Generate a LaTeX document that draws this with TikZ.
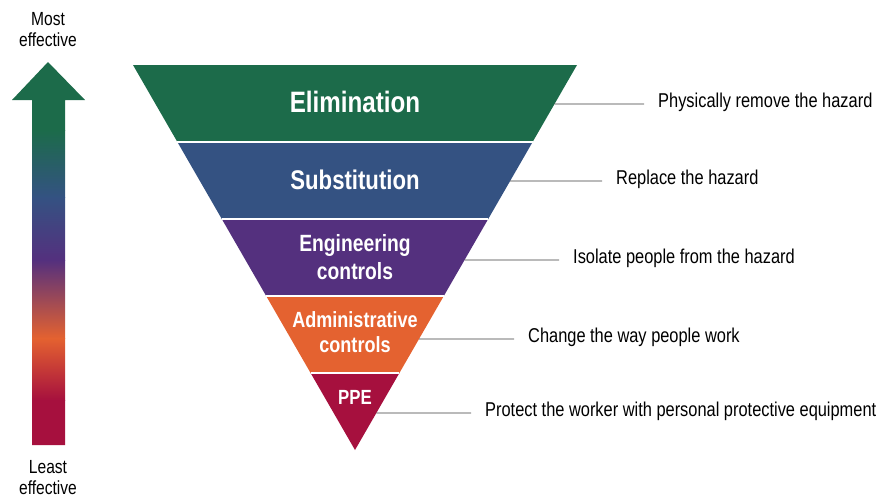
\documentclass[tikz,border=0pt]{standalone}
\usepackage{fontspec}
\setmainfont{Liberation Sans}
\newfontfamily\narrowfont[FakeStretch=0.82]{Liberation Sans}
\usetikzlibrary{calc}

\definecolor{elimgreen}{RGB}{28,107,74}
\definecolor{subblue}{RGB}{52,82,130}
\definecolor{engpurple}{RGB}{84,48,126}
\definecolor{admorange}{RGB}{228,98,48}
\definecolor{ppered}{RGB}{166,16,62}
\definecolor{leader}{RGB}{60,60,60}

\begin{document}
\begin{tikzpicture}[x=1pt,y=-1pt,
    title/.style={text=white,align=center,inner sep=0pt},
    label/.style={anchor=west,inner sep=0pt,text height=0.72em,text depth=0pt,
      font=\narrowfont\fontsize{20}{22}\selectfont},
    leaderline/.style={draw=leader,line width=0.9pt}]
  \useasboundingbox (0,0) rectangle (888,499);

  % funnel corners
  \coordinate (tl) at (133,65);
  \coordinate (tr) at (577,65);
  \coordinate (ap) at (355,450);

  \foreach \col [count=\i] in {elimgreen,subblue,engpurple,admorange,ppered}{
    \pgfmathsetmacro{\sa}{(\i-1)*0.2}
    \pgfmathsetmacro{\sb}{\i*0.2}
    \fill[\col] ($(tl)!\sa!(ap)$) -- ($(tr)!\sa!(ap)$) -- ($(tr)!\sb!(ap)$) -- ($(tl)!\sb!(ap)$) -- cycle;
  }
  \foreach \s in {0.2,0.4,0.6,0.8}
    \draw[white,line width=2.5pt] ($(tl)!\s!(ap)$) -- ($(tr)!\s!(ap)$);

  % band titles
  \node[title,font=\narrowfont\bfseries\fontsize{29.5}{30}\selectfont] (elim) at (355,102) {Elimination};
  \node[title,font=\narrowfont\bfseries\fontsize{27}{30}\selectfont] (subst) at (355,180) {Substitution};
  \node[title,font=\narrowfont\bfseries\fontsize{23.5}{28}\selectfont] (eng) at (355,257) {Engineering\\controls};
  \node[title,font=\narrowfont\bfseries\fontsize{22}{25}\selectfont] (adm) at (355,332) {Administrative\\controls};
  \node[title,font=\narrowfont\bfseries\fontsize{20.5}{24}\selectfont] (ppe) at (355,397) {PPE};

  % labels on the right
  \node[label] (elimtxt) at (658,104) {Physically remove the hazard};
  \node[label] (substtxt) at (616,181) {Replace the hazard};
  \node[label] (engtxt) at (573,260) {Isolate people from the hazard};
  \node[label] (admtxt) at (528,339) {Change the way people work};
  \node[label] (ppetxt) at (485,413) {Protect the worker with personal protective equipment};

  \foreach \t in {elimtxt,substtxt,engtxt,admtxt,ppetxt}{
    \coordinate (\t-edge) at (intersection of ap--tr and \t.west--\t.east);
    \draw[leaderline] (\t-edge) -- ([xshift=-14pt]\t.west);
  }

  % effectiveness arrow
  \begin{scope}
    \clip (48,62) -- (85,100) -- (65,100) -- (65,445) -- (32,445) -- (32,100) -- (12,100) -- cycle;
    \fill[elimgreen] (0,60) rectangle (100,130.5);
    \shade[top color=elimgreen,bottom color=subblue] (0,130) rectangle (100,197.5);
    \shade[top color=subblue,bottom color=engpurple] (0,197) rectangle (100,260.5);
    \shade[top color=engpurple,bottom color=admorange] (0,260) rectangle (100,338.5);
    \shade[top color=admorange,bottom color=ppered] (0,338) rectangle (100,400.5);
    \fill[ppered] (0,400) rectangle (100,450);
  \end{scope}

  \node[font=\narrowfont\fontsize{19}{21}\selectfont,align=center] (most) at (48,30) {Most\\effective};
  \node[font=\narrowfont\fontsize{19}{21}\selectfont,align=center] (least) at (48,478) {Least\\effective};
\end{tikzpicture}
\end{document}
